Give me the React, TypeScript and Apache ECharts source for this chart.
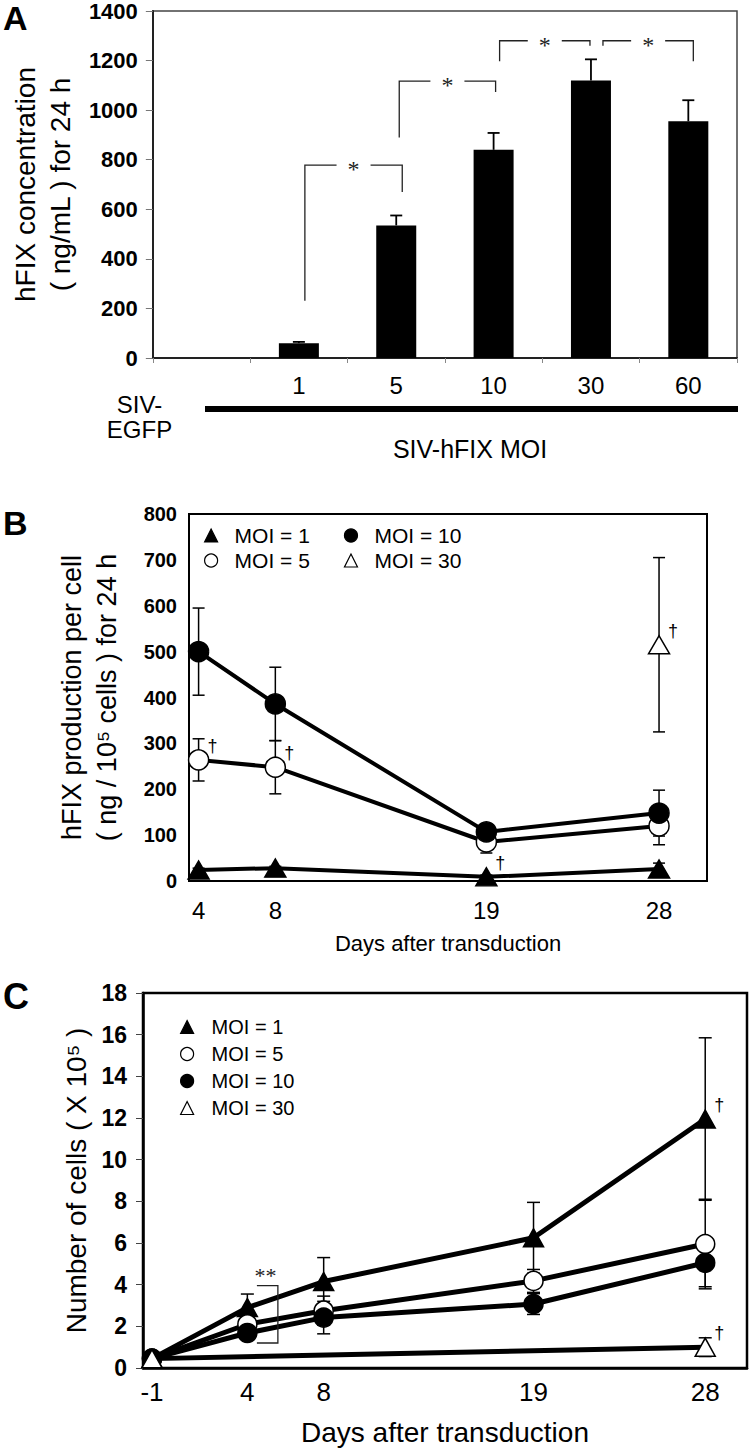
import React, { useEffect, useRef } from 'react';
import * as echarts from 'echarts';

// ---------- Panel A data ----------
const A_CATEGORIES = ['SIV-EGFP', '1', '5', '10', '30', '60'];
const A_VALUES = [0, 60, 535, 840, 1120, 955];
const A_ERRORS = [0, 5, 40, 68, 85, 85];
// [fromCategoryIndex, toCategoryIndex, topValue, leftBottomValue, rightBottomValue]
const A_BRACKETS = [
  [1, 2, 778, 231, 670],
  [2, 3, 1117, 890, 1073],
  [3, 4, 1280, 1197, 1260],
  [4, 5, 1280, 1260, 1197],
];

// ---------- Panel B data ----------
const B_DAYS = [4, 8, 19, 28];
const B_MOI1 = [24, 28, 9, 26];
const B_MOI1_ERR = [4, 4, 4, 13];
const B_MOI5 = [264, 248, 85, 120];
const B_MOI5_ERR = [46, 58, 24, 41];
const B_MOI10 = [500, 386, 107, 148];
const B_MOI10_ERR = [95, 80, 17, 50];
const B_MOI30_DAYS = [28];
const B_MOI30 = [515];
const B_MOI30_ERR = [190];
const B_DAGGERS = [[4, 264], [8, 248], [19, 9], [28, 515]];

// ---------- Panel C data ----------
const C_DAYS = [-1, 4, 8, 19, 28];
const C_MOI1 = [0.45, 2.9, 4.15, 6.25, 11.95];
const C_MOI1_ERR = [0, 0.65, 1.15, 1.7, 3.9];
const C_MOI5 = [0.45, 2.1, 2.75, 4.18, 5.95];
const C_MOI5_ERR = [0, 0.3, 0.7, 0.55, 2.15];
const C_MOI10 = [0.45, 1.68, 2.42, 3.07, 5.05];
const C_MOI10_ERR = [0, 0.3, 0.78, 0.5, 1.15];
const C_MOI30_DAYS = [-1, 28];
const C_MOI30 = [0.45, 1.0];
const C_MOI30_ERR = [0, 0.45];
const C_DAGGERS = [[28, 11.95], [28, 1.0]];
// [xLeft, xRight, yTop, yBottom]
const C_BRACKET = [[4.5, 5.6, 3.95, 1.2]];

const SERIES_NAMES = ['MOI = 1', 'MOI = 5', 'MOI = 10', 'MOI = 30'];

const FONT = "'Liberation Sans', Arial, Helvetica, sans-serif";
const SERIF = "'Liberation Serif', 'DejaVu Serif', serif";

// bracket pixel nudges [left, right]
const A_BRACKET_DX = [[6, 6], [3, 2], [6, -1], [12, 5]];

function App() {
  const ref = useRef<HTMLDivElement>(null);

  useEffect(() => {
    if (!ref.current) return;
    const chart = echarts.init(ref.current, undefined, { renderer: 'svg' });

    const pairs = (xs: number[], ys: number[]) => xs.map((x, i) => [x, ys[i]]);
    const triples = (xs: number[], ys: number[], es: number[]) => xs.map((x, i) => [x, ys[i], es[i]]);

    const lineSeries = (name: string, xs: number[], ys: number[], g: number, symbol: string, fill: string, size: any, lw: number) => ({
      type: 'line',
      name,
      xAxisIndex: g,
      yAxisIndex: g,
      data: pairs(xs, ys),
      symbol,
      symbolSize: size,
      showSymbol: true,
      itemStyle: { color: fill, borderColor: '#000', borderWidth: 1.5 },
      lineStyle: { color: '#000', width: lw },
      z: 3,
      silent: true,
    });

    const errSeries = (xs: number[], ys: number[], es: number[], g: number, cap: number, lw: number, upOnly: boolean) => ({
      type: 'custom',
      xAxisIndex: g,
      yAxisIndex: g,
      z: 1,
      silent: true,
      data: triples(xs, ys, es),
      encode: { x: 0, y: 1 },
      renderItem: (params: any, api: any) => {
        const x = api.value(0);
        const y = api.value(1);
        const e = api.value(2);
        if (!e) return { type: 'group', children: [] };
        const t = api.coord([x, y + e]);
        const b = api.coord([x, upOnly ? y : y - e]);
        const st = { stroke: '#000', lineWidth: lw };
        const children: any[] = [
          { type: 'line', shape: { x1: t[0], y1: t[1], x2: b[0], y2: b[1] }, style: st },
          { type: 'line', shape: { x1: t[0] - cap, y1: t[1], x2: t[0] + cap, y2: t[1] }, style: st },
        ];
        if (!upOnly) {
          children.push({ type: 'line', shape: { x1: b[0] - cap, y1: b[1], x2: b[0] + cap, y2: b[1] }, style: st });
        }
        return { type: 'group', children };
      },
    });

    const daggerSeries = (pts: number[][], g: number) => ({
      type: 'custom',
      xAxisIndex: g,
      yAxisIndex: g,
      z: 4,
      silent: true,
      data: pts,
      encode: { x: 0, y: 1 },
      renderItem: (params: any, api: any) => {
        const c = api.coord([api.value(0), api.value(1)]);
        return {
          type: 'text',
          x: c[0] + 14,
          y: c[1] - 14,
          style: {
            text: '†', fontSize: 18, fontFamily: FONT, fill: '#000',
            align: 'center', verticalAlign: 'middle', textAlign: 'center', textVerticalAlign: 'middle',
          },
        };
      },
    });

    const legendItem = (name: string) => {
      const map: any = {
        'MOI = 1': { icon: 'triangle', color: '#000' },
        'MOI = 5': { icon: 'circle', color: '#fff' },
        'MOI = 10': { icon: 'circle', color: '#000' },
        'MOI = 30': { icon: 'triangle', color: '#fff' },
      };
      return { name, icon: map[name].icon, itemStyle: { color: map[name].color, borderColor: '#000', borderWidth: 1.2 } };
    };

    const legendBase = {
      selectedMode: false,
      padding: 0,
      itemWidth: 13,
      itemHeight: 13,
      textStyle: { fontSize: 21, color: '#000', fontFamily: FONT, padding: [0, 0, 0, 12] },
    };

    const option: any = {
      animation: false,
      textStyle: { fontFamily: FONT },
      grid: [
        { left: 137, top: 7, width: 600, height: 351, show: true, borderColor: '#444', borderWidth: 1.5 },
        { left: 189, top: 514, width: 518, height: 367, show: true, borderColor: '#000', borderWidth: 2 },
        { left: 143, top: 993, width: 604, height: 375, show: true, borderColor: '#000', borderWidth: 2.5 },
      ],
      legend: [
        { ...legendBase, orient: 'horizontal', left: 204, top: 525, itemGap: 34, data: [legendItem('MOI = 1'), legendItem('MOI = 10')] },
        { ...legendBase, orient: 'horizontal', left: 204, top: 550, itemGap: 34, data: [legendItem('MOI = 5'), legendItem('MOI = 30')] },
        {
          ...legendBase, orient: 'vertical', left: 180, top: 1017, itemGap: 7,
          textStyle: { fontSize: 20, color: '#000', fontFamily: FONT, padding: [0, 0, 0, 13] },
          data: SERIES_NAMES.map(legendItem),
        },
      ],
      xAxis: [
        {
          gridIndex: 0, type: 'category', data: A_CATEGORIES, boundaryGap: true,
          axisLine: { show: true, onZero: false, lineStyle: { color: '#222', width: 2 } },
          axisTick: { show: true, length: 5, lineStyle: { color: '#888' } },
          axisLabel: {
            interval: 0, fontSize: 24, color: '#000', fontFamily: FONT, margin: 20, lineHeight: 14,
            formatter: (v: string) => (v === 'SIV-EGFP' ? '\n{e|SIV-}\n{e|EGFP}' : v),
            rich: { e: { fontSize: 24, lineHeight: 25, color: '#000', fontFamily: FONT, padding: [0, 124, 0, 0] } },
          },
          splitLine: { show: false },
        },
        {
          gridIndex: 1, type: 'value', min: 3.5, max: 30.5,
          axisLine: { show: true, onZero: false, lineStyle: { color: '#000', width: 2 } },
          axisTick: { show: false },
          splitLine: { show: false },
          axisLabel: { customValues: B_DAYS, fontSize: 24, color: '#000', fontFamily: FONT, margin: 17, formatter: (v: number) => String(v) },
          name: 'Days after transduction', nameLocation: 'middle', nameGap: 51,
          nameTextStyle: { fontSize: 22, color: '#000', fontFamily: FONT },
        },
        {
          gridIndex: 2, type: 'value', min: -1.47, max: 30.19,
          axisLine: { show: true, onZero: false, lineStyle: { color: '#000', width: 2.5 } },
          axisTick: { show: false },
          splitLine: { show: false },
          axisLabel: { customValues: C_DAYS, fontSize: 26, color: '#000', fontFamily: FONT, margin: 11, formatter: (v: number) => String(v) },
          name: 'Days after transduction', nameLocation: 'middle', nameGap: 50,
          nameTextStyle: { fontSize: 28, color: '#000', fontFamily: FONT },
        },
      ],
      yAxis: [
        {
          gridIndex: 0, type: 'value', min: 0, max: 1400, interval: 200,
          axisLine: { show: true, onZero: false, lineStyle: { color: '#222', width: 2 } },
          axisTick: { show: true, length: 7, lineStyle: { color: '#777' } },
          splitLine: { show: false },
          axisLabel: { fontSize: 22, fontWeight: 'bold', color: '#000', fontFamily: FONT, margin: 15, formatter: (v: number) => String(v) },
          name: 'hFIX concentration\n( ng/mL ) for 24 h', nameLocation: 'middle', nameGap: 71,
          nameTextStyle: { fontSize: 28, lineHeight: 35, color: '#000', fontFamily: FONT },
        },
        {
          gridIndex: 1, type: 'value', min: 0, max: 800, interval: 100,
          axisLine: { show: true, onZero: false, lineStyle: { color: '#000', width: 2 } },
          axisTick: { show: false },
          splitLine: { show: false },
          axisLabel: { fontSize: 20, fontWeight: 'bold', color: '#000', fontFamily: FONT, margin: 12, formatter: (v: number) => String(v) },
          name: 'hFIX production per cell\n( ng / 10⁵ cells ) for 24 h', nameLocation: 'middle', nameGap: 65,
          nameTextStyle: { fontSize: 27, lineHeight: 35, color: '#000', fontFamily: FONT },
        },
        {
          gridIndex: 2, type: 'value', min: 0, max: 18, interval: 2,
          axisLine: { show: true, onZero: false, lineStyle: { color: '#000', width: 2.5 } },
          axisTick: { show: true, length: 7, lineStyle: { color: '#444' } },
          splitLine: { show: false },
          axisLabel: { fontSize: 23, fontWeight: 'bold', color: '#000', fontFamily: FONT, margin: 16, formatter: (v: number) => String(v) },
          name: 'Number of cells ( X 10⁵ )', nameLocation: 'middle', nameGap: 53,
          nameTextStyle: { fontSize: 28, color: '#000', fontFamily: FONT },
        },
      ],
      series: [
        // Panel A
        {
          type: 'bar', xAxisIndex: 0, yAxisIndex: 0, data: A_VALUES, barWidth: 40,
          itemStyle: { color: '#000' }, z: 2, silent: true,
        },
        errSeries(A_CATEGORIES.map((_, i) => i), A_VALUES, A_ERRORS, 0, 6, 1.8, true),
        {
          type: 'custom', xAxisIndex: 0, yAxisIndex: 0, z: 4, silent: true,
          data: A_BRACKETS,
          encode: { x: [0, 1], y: [2, 3, 4] },
          renderItem: (params: any, api: any) => {
            const a = api.value(0), b = api.value(1), top = api.value(2), lb = api.value(3), rb = api.value(4);
            const dx = A_BRACKET_DX[params.dataIndex];
            const pl = api.coord([a, lb]);
            const pt = api.coord([a, top]);
            const pr = api.coord([b, rb]);
            const xl = pl[0] + dx[0];
            const xr = pr[0] + dx[1];
            const yt = pt[1];
            const mid = (xl + xr) / 2;
            const g = 17;
            const st = { stroke: '#222', lineWidth: 1.3, fill: null };
            return {
              type: 'group',
              children: [
                { type: 'polyline', shape: { points: [[xl, pl[1]], [xl, yt], [mid - g, yt]] }, style: st },
                { type: 'polyline', shape: { points: [[mid + g, yt], [xr, yt], [xr, pr[1]]] }, style: st },
                {
                  type: 'text', x: mid, y: yt + 4,
                  style: {
                    text: '*', fontSize: 24, fontFamily: SERIF, fill: '#222',
                    align: 'center', verticalAlign: 'middle', textAlign: 'center', textVerticalAlign: 'middle',
                  },
                },
              ],
            };
          },
        },

        // Panel B
        errSeries(B_DAYS, B_MOI1, B_MOI1_ERR, 1, 6, 1.5, false),
        errSeries(B_DAYS, B_MOI5, B_MOI5_ERR, 1, 6, 1.5, false),
        errSeries(B_DAYS, B_MOI10, B_MOI10_ERR, 1, 6, 1.5, false),
        errSeries(B_MOI30_DAYS, B_MOI30, B_MOI30_ERR, 1, 6, 1.5, false),
        lineSeries('MOI = 1', B_DAYS, B_MOI1, 1, 'triangle', '#000', [21, 18], 4),
        lineSeries('MOI = 5', B_DAYS, B_MOI5, 1, 'circle', '#fff', 20, 4),
        lineSeries('MOI = 10', B_DAYS, B_MOI10, 1, 'circle', '#000', 20, 4),
        lineSeries('MOI = 30', B_MOI30_DAYS, B_MOI30, 1, 'triangle', '#fff', [21, 18], 4),
        daggerSeries(B_DAGGERS, 1),

        // Panel C
        errSeries(C_DAYS, C_MOI1, C_MOI1_ERR, 2, 6.5, 1.5, false),
        errSeries(C_DAYS, C_MOI5, C_MOI5_ERR, 2, 6.5, 1.5, false),
        errSeries(C_DAYS, C_MOI10, C_MOI10_ERR, 2, 6.5, 1.5, false),
        errSeries(C_MOI30_DAYS, C_MOI30, C_MOI30_ERR, 2, 6.5, 1.5, false),
        lineSeries('MOI = 1', C_DAYS, C_MOI1, 2, 'triangle', '#000', [20, 18], 5),
        lineSeries('MOI = 5', C_DAYS, C_MOI5, 2, 'circle', '#fff', 19, 5),
        lineSeries('MOI = 10', C_DAYS, C_MOI10, 2, 'circle', '#000', 19, 5),
        lineSeries('MOI = 30', C_MOI30_DAYS, C_MOI30, 2, 'triangle', '#fff', [20, 18], 5),
        daggerSeries(C_DAGGERS, 2),
        {
          type: 'custom', xAxisIndex: 2, yAxisIndex: 2, z: 4, silent: true,
          data: C_BRACKET,
          encode: { x: [0, 1], y: [2, 3] },
          renderItem: (params: any, api: any) => {
            const p1 = api.coord([api.value(0), api.value(2)]);
            const p2 = api.coord([api.value(1), api.value(3)]);
            const st = { stroke: '#222', lineWidth: 1.3, fill: null };
            return {
              type: 'group',
              children: [
                { type: 'polyline', shape: { points: [[p1[0], p1[1]], [p2[0], p1[1]], [p2[0], p2[1]], [p1[0], p2[1]]] }, style: st },
                {
                  type: 'text', x: (p1[0] + p2[0]) / 2 - 2, y: p1[1] - 10,
                  style: {
                    text: '**', fontSize: 22, fontFamily: SERIF, fill: '#222',
                    align: 'center', verticalAlign: 'middle', textAlign: 'center', textVerticalAlign: 'middle',
                  },
                },
              ],
            };
          },
        },
      ],
      graphic: [
        { type: 'text', left: 3, top: 1, style: { text: 'A', fontSize: 34, fontWeight: 'bold', fontFamily: FONT, fill: '#000' } },
        { type: 'text', left: 3, top: 506, style: { text: 'B', fontSize: 34, fontWeight: 'bold', fontFamily: FONT, fill: '#000' } },
        { type: 'text', left: 3, top: 978, style: { text: 'C', fontSize: 36, fontWeight: 'bold', fontFamily: FONT, fill: '#000' } },
        { type: 'rect', shape: { x: 205, y: 406, width: 533, height: 6 }, style: { fill: '#000' } },
        {
          type: 'text', x: 470, y: 449,
          style: {
            text: 'SIV-hFIX MOI', fontSize: 25, fontFamily: FONT, fill: '#000',
            align: 'center', verticalAlign: 'middle', textAlign: 'center', textVerticalAlign: 'middle',
          },
        },
      ],
    };

    chart.setOption(option);
    return () => chart.dispose();
  }, []);

  return (
    <div
      ref={ref}
      style={{ position: 'absolute', left: 0, top: 0, width: 752, height: 1449, background: '#fff' }}
    />
  );
}

export default App;
